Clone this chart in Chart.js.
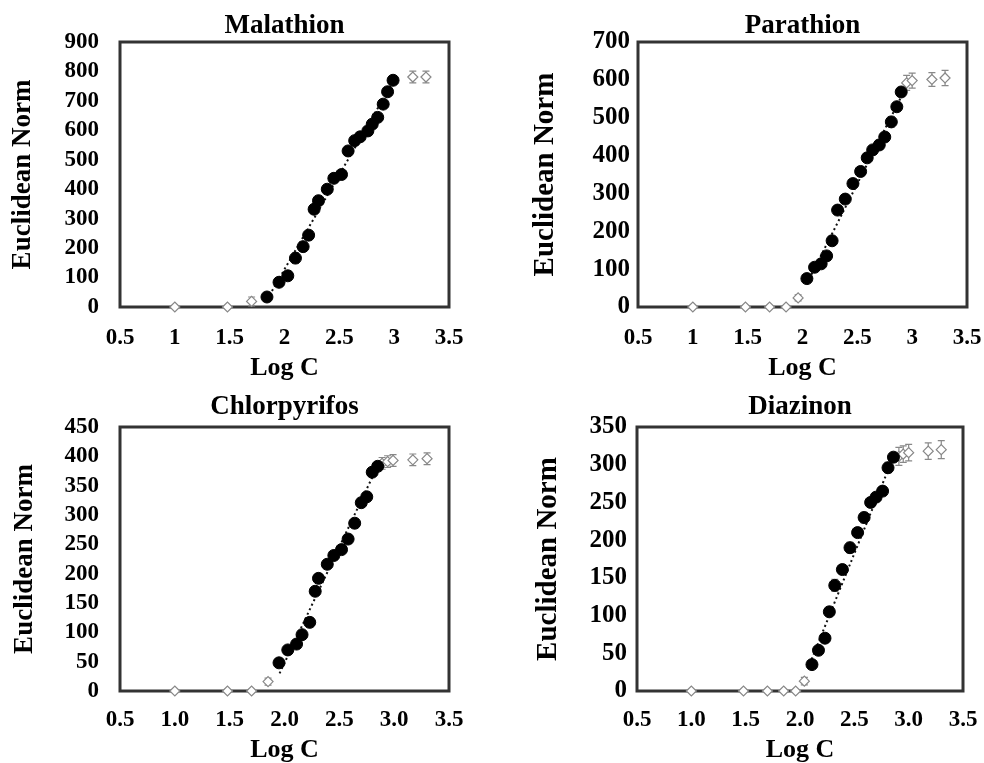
<!DOCTYPE html>
<html>
<head>
<meta charset="utf-8">
<script src="https://cdn.jsdelivr.net/npm/chart.js@4.4.1/dist/chart.umd.min.js"></script>
<style>
  html, body { margin: 0; padding: 0; background: #fff; }
  #wrap { position: relative; width: 984px; height: 763px; overflow: hidden; }
  .panel { position: absolute; }
</style>
</head>
<body>
<div id="wrap">
  <div class="panel" style="left:0;top:0;width:492px;height:381px"><canvas id="c1"></canvas></div>
  <div class="panel" style="left:492px;top:0;width:492px;height:381px"><canvas id="c2"></canvas></div>
  <div class="panel" style="left:0;top:381px;width:492px;height:382px"><canvas id="c3"></canvas></div>
  <div class="panel" style="left:492px;top:381px;width:492px;height:382px"><canvas id="c4"></canvas></div>
</div>
<script>
// tick labels
const xLabelsTop = ['0.5', '1', '1.5', '2', '2.5', '3', '3.5'];
const xLabelsBottom = ['0.5', '1.0', '1.5', '2.0', '2.5', '3.0', '3.5'];

// Malathion
const malX = [1.84, 1.95, 2.03, 2.10, 2.17, 2.22, 2.27, 2.31, 2.39, 2.45, 2.52, 2.58, 2.64, 2.69, 2.76, 2.80, 2.85, 2.90, 2.94, 2.99];
const malY = [34, 84, 106, 166, 205, 244, 332, 361, 400, 437, 450, 530, 565, 578, 598, 621, 644, 689, 731, 770];
const malErr = [12, 14, 15, 18, 16, 15, 14, 15, 14, 13, 12, 14, 15, 12, 13, 12, 12, 14, 13, 12];
const malOpenX = [1.00, 1.48, 1.70, 3.17, 3.29];
const malOpenY = [0, 0, 19, 781, 781];
const malOpenErr = [0, 0, 15, 20, 20];
const malTrendX = [1.84, 2.99];
const malTrendY = [25, 765];

// Parathion
const parX = [2.04, 2.11, 2.17, 2.22, 2.27, 2.32, 2.39, 2.46, 2.53, 2.59, 2.64, 2.70, 2.75, 2.81, 2.86, 2.90];
const parY = [75, 105, 114, 135, 175, 256, 285, 326, 358, 394, 415, 428, 449, 489, 529, 568];
const parErr = [10, 10, 9, 10, 12, 12, 10, 10, 11, 10, 10, 12, 10, 13, 10, 10];
const parOpenX = [1.00, 1.48, 1.70, 1.85, 1.96, 2.95, 3.00, 3.18, 3.30];
const parOpenY = [0, 0, 0, 0, 24, 592, 598, 601, 605];
const parOpenErr = [0, 0, 0, 0, 8, 20, 20, 18, 20];
const parTrendX = [2.04, 2.94];
const parTrendY = [62, 578];

// Chlorpyrifos
const chlX = [1.95, 2.03, 2.11, 2.16, 2.23, 2.28, 2.31, 2.39, 2.45, 2.52, 2.58, 2.64, 2.70, 2.75, 2.80, 2.85];
const chlY = [48, 70, 80, 96, 117, 170, 192, 216, 231, 241, 259, 286, 321, 331, 373, 383];
const chlErr = [6, 5, 6, 6, 8, 6, 8, 6, 6, 7, 7, 8, 6, 6, 6, 5];
const chlOpenX = [1.00, 1.48, 1.70, 1.85, 2.89, 2.94, 2.99, 3.17, 3.30];
const chlOpenY = [0, 0, 0, 16, 388, 391, 393, 394, 396];
const chlOpenErr = [0, 0, 0, 6, 10, 10, 10, 10, 10];
const chlTrendX = [1.955, 2.84];
const chlTrendY = [30, 380];

// Diazinon
const diaX = [2.11, 2.17, 2.23, 2.27, 2.32, 2.39, 2.46, 2.53, 2.59, 2.65, 2.70, 2.76, 2.81, 2.86];
const diaY = [35, 54, 70, 105, 140, 161, 190, 210, 230, 250, 257, 265, 296, 310];
const diaErr = [4, 4, 5, 6, 8, 6, 7, 6, 7, 6, 5, 6, 7, 6];
const diaOpenX = [1.00, 1.48, 1.70, 1.85, 1.96, 2.04, 2.91, 2.95, 3.00, 3.18, 3.30];
const diaOpenY = [0, 0, 0, 0, 0, 13, 311, 314, 316, 318, 320];
const diaOpenErr = [0, 0, 0, 0, 0, 5, 12, 11, 11, 11, 12];
const diaTrendX = [2.09, 2.85];
const diaTrendY = [36, 307];

const serif = "'Liberation Serif', 'Times New Roman', serif";
const pts = (xs, ys) => xs.map((x, i) => ({ x, y: ys[i] }));

// box round the plot area plus error bars, drawn under the markers
const frameAndErrors = {
  id: 'frameAndErrors',
  beforeDatasetsDraw(chart) {
    const { ctx, chartArea: a, scales } = chart;
    ctx.save();
    ctx.strokeStyle = '#333';
    ctx.lineWidth = 3;
    ctx.strokeRect(a.left, a.top, a.right - a.left, a.bottom - a.top);
    ctx.strokeStyle = '#888';
    ctx.lineWidth = 1.2;
    chart.data.datasets.forEach(ds => {
      if (!ds.err) return;
      ds.data.forEach((p, i) => {
        const e = ds.err[i];
        if (!e) return;
        const x = scales.x.getPixelForValue(p.x);
        const y1 = scales.y.getPixelForValue(p.y - e);
        const y2 = scales.y.getPixelForValue(p.y + e);
        ctx.beginPath();
        ctx.moveTo(x, y1); ctx.lineTo(x, y2);
        ctx.moveTo(x - 3.5, y1); ctx.lineTo(x + 3.5, y1);
        ctx.moveTo(x - 3.5, y2); ctx.lineTo(x + 3.5, y2);
        ctx.stroke();
      });
    });
    ctx.restore();
  }
};

function makeChart(id, p) {
  new Chart(document.getElementById(id), {
    type: 'scatter',
    data: {
      datasets: [
        {
          data: pts(p.x, p.y), err: p.err,
          backgroundColor: '#000', borderColor: '#000',
          pointRadius: 6, pointHoverRadius: 6, clip: false
        },
        {
          data: pts(p.openX, p.openY), err: p.openErr,
          pointStyle: 'rectRot', backgroundColor: '#fff', borderColor: '#888', borderWidth: 1.2,
          pointRadius: 5, pointHoverRadius: 5, clip: false
        },
        {
          type: 'line', data: pts(p.trendX, p.trendY),
          borderColor: '#111', borderWidth: 2, borderDash: [2, 3],
          pointRadius: 0, fill: false
        }
      ]
    },
    options: {
      responsive: true,
      maintainAspectRatio: false,
      animation: false,
      layout: { padding: p.pad },
      plugins: {
        legend: { display: false },
        tooltip: { enabled: false },
        title: {
          display: true, text: p.title, color: '#000', fullSize: false,
          font: { family: serif, size: 27, weight: 'bold', lineHeight: 1 },
          padding: p.titlePad
        }
      },
      scales: {
        x: {
          type: 'linear', min: 0.5, max: 3.5,
          grid: { display: false, drawTicks: false },
          border: { display: false },
          afterFit: s => { s.height = p.xH; s.paddingLeft = 0; s.paddingRight = 0; },
          ticks: {
            stepSize: 0.5, autoSkip: false, maxRotation: 0, color: '#000',
            padding: p.xTickPad,
            font: { family: serif, size: 23, weight: 'bold' },
            callback: (v, i) => p.xLabels[i]
          },
          title: {
            display: true, text: 'Log C', color: '#000',
            font: { family: serif, size: 26, weight: 'bold', lineHeight: 1 },
            padding: 0
          }
        },
        y: {
          min: 0, max: p.yMax,
          grid: { display: false, drawTicks: false },
          border: { display: false },
          afterFit: s => { s.width = p.yW; s.paddingTop = 0; s.paddingBottom = 0; },
          ticks: {
            stepSize: p.yStep, autoSkip: false, color: '#000', padding: p.yTickPad,
            font: { family: serif, size: p.yTickSize, weight: 'bold' }
          },
          title: {
            display: true, text: 'Euclidean Norm', color: '#000',
            font: { family: serif, size: p.yTitleSize, weight: 'bold', lineHeight: 1 },
            padding: { top: p.yTitlePad, bottom: 0 }
          }
        }
      }
    },
    plugins: [frameAndErrors]
  });
}

makeChart('c1', {
  title: 'Malathion', x: malX, y: malY, err: malErr,
  openX: malOpenX, openY: malOpenY, openErr: malOpenErr,
  trendX: malTrendX, trendY: malTrendY,
  yMax: 900, yStep: 100, xLabels: xLabelsTop,
  pad: { left: 0, right: 43, top: 0, bottom: 0 },
  titlePad: { top: 13, bottom: 2 },
  yW: 120, yTickPad: 21, yTickSize: 23, yTitleSize: 27, yTitlePad: 10,
  xH: 74, xTickPad: 17
});

makeChart('c2', {
  title: 'Parathion', x: parX, y: parY, err: parErr,
  openX: parOpenX, openY: parOpenY, openErr: parOpenErr,
  trendX: parTrendX, trendY: parTrendY,
  yMax: 700, yStep: 100, xLabels: xLabelsTop,
  pad: { left: 30, right: 17, top: 0, bottom: 0 },
  titlePad: { top: 13, bottom: 2 },
  yW: 116, yTickPad: 8, yTickSize: 25, yTitleSize: 29, yTitlePad: 9,
  xH: 74, xTickPad: 17
});

makeChart('c3', {
  title: 'Chlorpyrifos', x: chlX, y: chlY, err: chlErr,
  openX: chlOpenX, openY: chlOpenY, openErr: chlOpenErr,
  trendX: chlTrendX, trendY: chlTrendY,
  yMax: 450, yStep: 50, xLabels: xLabelsBottom,
  pad: { left: 0, right: 43, top: 0, bottom: 0 },
  titlePad: { top: 13, bottom: 6 },
  yW: 120, yTickPad: 21, yTickSize: 23, yTitleSize: 27, yTitlePad: 12,
  xH: 72, xTickPad: 15
});

makeChart('c4', {
  title: 'Diazinon', x: diaX, y: diaY, err: diaErr,
  openX: diaOpenX, openY: diaOpenY, openErr: diaOpenErr,
  trendX: diaTrendX, trendY: diaTrendY,
  yMax: 350, yStep: 50, xLabels: xLabelsBottom,
  pad: { left: 30, right: 21, top: 0, bottom: 0 },
  titlePad: { top: 13, bottom: 6 },
  yW: 115, yTickPad: 10, yTickSize: 25, yTitleSize: 29, yTitlePad: 12,
  xH: 72, xTickPad: 15
});
</script>
</body>
</html>
